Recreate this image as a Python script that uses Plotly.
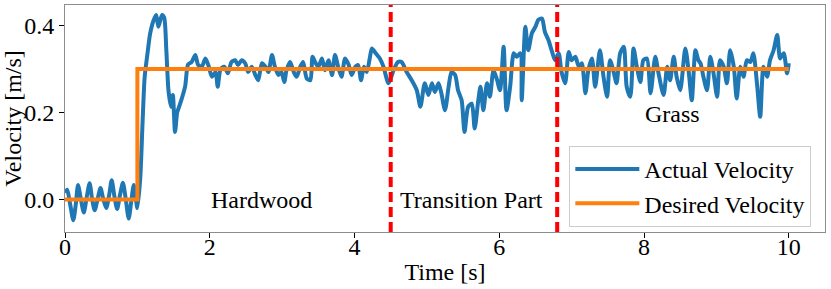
import plotly.graph_objects as go

# Actual velocity readings (time [s], velocity [m/s])
time_actual = [
    0.00, 0.03, 0.07, 0.115, 0.15, 0.18, 0.22, 0.26, 0.30, 0.34, 0.375, 0.41, 0.45, 0.49,
    0.53, 0.57, 0.61, 0.645, 0.68, 0.72, 0.76, 0.80, 0.84, 0.88, 0.915, 0.95, 0.98, 1.00,
    1.04, 1.07, 1.10, 1.14, 1.175, 1.22, 1.26, 1.29, 1.34, 1.37, 1.40, 1.43, 1.465, 1.49,
    1.52, 1.55, 1.57, 1.61, 1.66, 1.70, 1.75, 1.80, 1.84, 1.89, 1.94, 1.98, 2.03, 2.08,
    2.11, 2.15, 2.20, 2.25, 2.30, 2.35, 2.39, 2.44, 2.49, 2.53, 2.58, 2.63, 2.67, 2.72,
    2.77, 2.81, 2.86, 2.90, 2.95, 2.99, 3.03, 3.06, 3.11, 3.16, 3.20, 3.25, 3.29, 3.34,
    3.39, 3.42, 3.455, 3.50, 3.55, 3.59, 3.64, 3.69, 3.73, 3.78, 3.82, 3.87, 3.92, 3.96,
    4.01, 4.05, 4.09, 4.13, 4.17, 4.21, 4.24, 4.285, 4.35, 4.40, 4.47, 4.54, 4.60, 4.65,
    4.72, 4.79, 4.86, 4.91, 4.97, 5.02, 5.07, 5.11, 5.16, 5.20, 5.25, 5.30, 5.34, 5.39,
    5.43, 5.48, 5.52, 5.57, 5.62, 5.66, 5.71, 5.74, 5.78, 5.83, 5.87, 5.92, 5.97, 6.01,
    6.06, 6.10, 6.15, 6.20, 6.24, 6.29, 6.31, 6.36, 6.40, 6.45, 6.50, 6.54, 6.59, 6.63,
    6.68, 6.73, 6.77, 6.82, 6.86, 6.91, 6.96, 7.00, 7.05, 7.10, 7.14, 7.19, 7.23, 7.28,
    7.325, 7.39, 7.44, 7.49, 7.53, 7.58, 7.62, 7.67, 7.72, 7.76, 7.81, 7.855, 7.90, 7.95,
    7.99, 8.04, 8.09, 8.155, 8.20, 8.27, 8.32, 8.36, 8.41, 8.45, 8.50, 8.57, 8.615, 8.66,
    8.71, 8.75, 8.78, 8.82, 8.87, 8.915, 8.96, 9.01, 9.05, 9.10, 9.145, 9.19, 9.24, 9.28,
    9.33, 9.375, 9.42, 9.47, 9.51, 9.56, 9.605, 9.65, 9.70, 9.74, 9.79, 9.84, 9.88, 9.93,
    9.975, 10.00,
]
velocity_actual = [
    0.015, 0.022, -0.010, -0.048, -0.010, 0.033, 0.000, -0.030, 0.005, 0.037, 0.000, -0.025, 0.000, 0.026,
    0.000, -0.020, 0.010, 0.044, 0.010, -0.022, 0.010, 0.038, 0.000, -0.044, -0.005, 0.033, 0.000, -0.020,
    0.050, 0.170, 0.280, 0.336, 0.380, 0.410, 0.424, 0.397, 0.424, 0.418, 0.343, 0.250, 0.213, 0.240,
    0.155, 0.200, 0.210, 0.230, 0.260, 0.310, 0.316, 0.332, 0.309, 0.305, 0.324, 0.309, 0.282, 0.293,
    0.259, 0.300, 0.305, 0.290, 0.316, 0.320, 0.309, 0.320, 0.313, 0.293, 0.305, 0.286, 0.274, 0.313,
    0.305, 0.293, 0.332, 0.305, 0.286, 0.293, 0.270, 0.297, 0.316, 0.293, 0.282, 0.305, 0.316, 0.278,
    0.274, 0.328, 0.316, 0.305, 0.324, 0.297, 0.320, 0.286, 0.332, 0.301, 0.282, 0.324, 0.309, 0.286,
    0.305, 0.309, 0.274, 0.305, 0.293, 0.324, 0.347, 0.338, 0.324, 0.305, 0.267, 0.297, 0.316, 0.316,
    0.293, 0.274, 0.251, 0.213, 0.267, 0.240, 0.267, 0.247, 0.267, 0.244, 0.205, 0.259, 0.293, 0.286,
    0.251, 0.228, 0.155, 0.213, 0.220, 0.163, 0.228, 0.259, 0.205, 0.267, 0.236, 0.297, 0.274, 0.251,
    0.351, 0.205, 0.259, 0.336, 0.328, 0.336, 0.228, 0.397, 0.343, 0.382, 0.397, 0.413, 0.416, 0.385,
    0.366, 0.339, 0.320, 0.336, 0.293, 0.267, 0.339, 0.320, 0.328, 0.305, 0.313, 0.244, 0.297, 0.324,
    0.259, 0.343, 0.282, 0.236, 0.320, 0.293, 0.267, 0.336, 0.351, 0.259, 0.236, 0.347, 0.305, 0.270,
    0.320, 0.324, 0.244, 0.328, 0.290, 0.240, 0.305, 0.274, 0.328, 0.282, 0.251, 0.347, 0.297, 0.228,
    0.343, 0.320, 0.313, 0.282, 0.251, 0.328, 0.290, 0.236, 0.320, 0.305, 0.267, 0.343, 0.305, 0.232,
    0.305, 0.282, 0.320, 0.316, 0.336, 0.267, 0.190, 0.305, 0.282, 0.320, 0.343, 0.378, 0.324, 0.336,
    0.290, 0.313,
]

# Desired velocity: step command
time_desired = [0.0, 1.0, 1.0, 10.0]
velocity_desired = [0.0, 0.0, 0.3, 0.3]

# Terrain boundaries and labels
boundaries = [4.5, 6.8]
region_labels = ["Hardwood", "Transition Part", "Grass"]
label_x = [2.72, 5.62, 8.39]
label_y = [-0.001, -0.001, 0.197]

x_ticks = [0, 2, 4, 6, 8, 10]
y_ticks = [0.0, 0.2, 0.4]

FONT = "Liberation Serif"

fig = go.Figure()
fig.add_trace(go.Scatter(
    x=time_actual, y=velocity_actual, mode="lines", name="Actual Velocity",
    line=dict(color="#1f77b4", width=4, shape="spline", smoothing=0.7),
))
fig.add_trace(go.Scatter(
    x=time_desired, y=velocity_desired, mode="lines", name="Desired Velocity",
    line=dict(color="#ff7f0e", width=4),
))

for b in boundaries:
    fig.add_shape(type="line", x0=b, x1=b, xref="x", y0=0, y1=1, yref="paper",
                  line=dict(color="red", width=4, dash="10px,5px"), layer="above")

for txt, lx, ly in zip(region_labels, label_x, label_y):
    fig.add_annotation(x=lx, y=ly, xref="x", yref="y", text=txt, showarrow=False,
                       font=dict(family=FONT, size=24, color="black"),
                       xanchor="center", yanchor="middle")

fig.update_layout(
    width=831, height=289,
    margin=dict(l=65, r=6, t=5, b=57),
    paper_bgcolor="white", plot_bgcolor="white",
    font=dict(family=FONT, size=24, color="black"),
    showlegend=True,
    legend=dict(
        x=0.982, y=0.022, xanchor="right", yanchor="bottom",
        bgcolor="rgba(255,255,255,0.8)", bordercolor="#cccccc", borderwidth=1,
        font=dict(family=FONT, size=24, color="black"),
        tracegroupgap=0, itemwidth=64,
    ),
)
fig.update_xaxes(
    range=[0, 10.5], tickvals=x_ticks, ticktext=[str(v) for v in x_ticks],
    showgrid=False, zeroline=False, showline=True, mirror=True, automargin=False,
    linecolor="#8c8c8c", linewidth=1, ticks="outside", ticklen=5, tickcolor="black",
    ticklabelstandoff=-12,
    title=dict(text="Time [s]", standoff=4, font=dict(family=FONT, size=24)),
    tickfont=dict(family=FONT, size=24),
)
fig.update_yaxes(
    range=[-0.075, 0.447], tickvals=y_ticks, ticktext=[f"{v:.1f}" for v in y_ticks],
    showgrid=False, zeroline=False, showline=True, mirror=True, automargin=False,
    linecolor="#8c8c8c", linewidth=1, ticks="outside", ticklen=5, tickcolor="black",
    title=dict(text="Velocity [m/s]", standoff=2, font=dict(family=FONT, size=24)),
    tickfont=dict(family=FONT, size=24),
)

fig.write_html("out.html", config={"displayModeBar": False},
               post_script="document.body.style.margin='0';")
